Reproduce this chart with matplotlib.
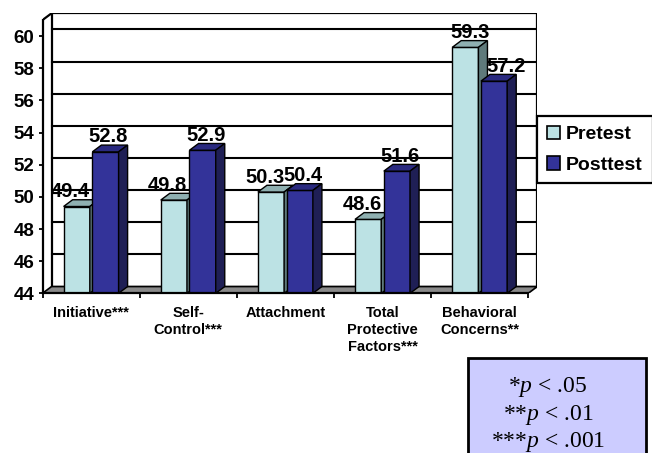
import numpy as np
import matplotlib
matplotlib.use("Agg")
import matplotlib.pyplot as plt
from matplotlib.patches import Polygon, Patch, Rectangle

# data
categories = ["Initiative***", "Self-\nControl***", "Attachment",
              "Total\nProtective\nFactors***", "Behavioral\nConcerns**"]
pretest = [49.4, 49.8, 50.3, 48.6, 59.3]
posttest = [52.8, 52.9, 50.4, 51.6, 57.2]
series_names = ["Pretest", "Posttest"]
y_ticks = [44, 46, 48, 50, 52, 54, 56, 58, 60]

plt.rcParams['font.family'] = ['Liberation Sans', 'DejaVu Sans']
plt.rcParams['mathtext.fontset'] = 'custom'
plt.rcParams['mathtext.rm'] = 'Liberation Serif'
plt.rcParams['mathtext.it'] = 'Liberation Serif:italic'

# colours: front, top, side
pre_cols = ('#BCE2E4', '#8FB0B1', '#5F7A7B')
post_cols = ('#333399', '#2A2A80', '#1F1F55')

y_min, y_max = 44, 61
dx, dy = 0.093, 0.42      # depth of the fake 3d
bar_w = 0.27
# horizontal placement of value labels (Excel shifts the last pair a bit)
pre_label_shift = [-0.21, -0.21, -0.21, -0.21, -0.10]
post_label_shift = [0.18, 0.18, 0.18, 0.18, 0.27]

fig = plt.figure(figsize=(6.52, 4.53), dpi=100)
ax = fig.add_axes([42.5 / 652, 1 - 293.3 / 453, (537.3 - 42.5) / 652, (293.3 - 13.3) / 453])
ax.set_xlim(-0.5, len(categories) - 0.5 + dx)
ax.set_ylim(y_min, y_max + dy)
ax.patch.set_visible(False)

x = np.arange(len(categories))
x_left, x_right = -0.5, len(categories) - 0.5

# ---------------------------------------------------------
# back wall, gridlines, floor
# ---------------------------------------------------------
ax.add_patch(Polygon([(x_left + dx, y_min + dy), (x_right + dx, y_min + dy),
                      (x_right + dx, y_max + dy), (x_left + dx, y_max + dy)],
                     closed=True, facecolor='white', edgecolor='black', lw=1.6, zorder=1))
for v in y_ticks[1:]:
    ax.plot([x_left + dx, x_right + dx], [v + dy, v + dy], color='black', lw=1.5, zorder=1)
ax.plot([x_left, x_left + dx], [y_max, y_max + dy], color='black', lw=1.6, zorder=1)
ax.add_patch(Polygon([(x_left, y_min), (x_right, y_min), (x_right + dx, y_min + dy),
                      (x_left + dx, y_min + dy)],
                     closed=True, facecolor='#8A8A8A', edgecolor='black', lw=1.2, zorder=2))

# ---------------------------------------------------------
# bars
# ---------------------------------------------------------
def draw_bars(x0, vals, cols, z):
    bars = ax.bar(x0, np.array(vals) - y_min, bottom=y_min, width=bar_w, align='edge',
                  color=cols[0], edgecolor='black', lw=1.0, zorder=z)
    for b, v in zip(bars, vals):
        l, r = b.get_x(), b.get_x() + b.get_width()
        ax.add_patch(Polygon([(l, v), (r, v), (r + dx, v + dy), (l + dx, v + dy)],
                             closed=True, facecolor=cols[1], edgecolor='black', lw=1.0, zorder=z))
        ax.add_patch(Polygon([(r, y_min), (r + dx, y_min + dy), (r + dx, v + dy), (r, v)],
                             closed=True, facecolor=cols[2], edgecolor='black', lw=1.0, zorder=z))

draw_bars(x - 0.283, pretest, pre_cols, 4)
draw_bars(x + 0.013, posttest, post_cols, 5)

# value labels (behind the bars, like the original)
for xi, v in zip(x + np.array(pre_label_shift), pretest):
    ax.annotate(f"{v:.1f}", (xi, v + dy), xytext=(0, 2), textcoords='offset points',
                ha='center', va='baseline', fontsize=14.5, fontweight='bold', zorder=3)
for xi, v in zip(x + np.array(post_label_shift), posttest):
    ax.annotate(f"{v:.1f}", (xi, v + dy), xytext=(0, 2), textcoords='offset points',
                ha='center', va='baseline', fontsize=14.5, fontweight='bold', zorder=3)

# ---------------------------------------------------------
# axes
# ---------------------------------------------------------
for s in ['top', 'right']:
    ax.spines[s].set_visible(False)
ax.spines['left'].set_bounds(y_min, y_max)
ax.spines['bottom'].set_bounds(x_left, x_right)
ax.spines['left'].set_linewidth(1.6)
ax.spines['bottom'].set_linewidth(1.6)
ax.spines['left'].set_zorder(6)
ax.spines['bottom'].set_zorder(6)

ax.set_yticks(y_ticks)
ax.set_yticklabels([str(t) for t in y_ticks], fontsize=13.5, fontweight='bold')
ax.tick_params(axis='y', direction='out', length=3, width=1.3, pad=3)

ax.set_xticks(np.arange(x_left, x_right + 0.01, 1.0))
ax.set_xticklabels([])
ax.tick_params(axis='x', which='major', direction='out', length=3.5, width=1.3)
ax.set_xticks(x, minor=True)
ax.set_xticklabels(categories, minor=True, fontsize=10.5, fontweight='bold', linespacing=1.3)
ax.tick_params(axis='x', which='minor', length=0, pad=9)

# legend
handles = [Patch(facecolor=pre_cols[0], edgecolor='black', lw=1.2),
           Patch(facecolor=post_cols[0], edgecolor='black', lw=1.2)]
leg = fig.legend(handles, series_names, loc='upper left',
                 bbox_to_anchor=(537 / 652, 1 - 116 / 453), borderaxespad=0,
                 prop={'weight': 'bold', 'size': 14}, handlelength=0.7, handleheight=0.7,
                 handletextpad=0.3, borderpad=0.5, labelspacing=0.65,
                 fancybox=False, framealpha=1, edgecolor='black')
leg.get_frame().set_linewidth(1.6)

# significance note
fig.patches.append(Rectangle((468 / 652, -0.05), (646 - 468) / 652, (453 - 358) / 453 + 0.05,
                             transform=fig.transFigure, facecolor='#CCCCFF',
                             edgecolor='black', lw=2))
notes = ["*$p$ < .05", "**$p$ < .01", "***$p$ < .001"]
for note, yb in zip(notes, [392, 420, 447]):
    fig.text(548 / 652, 1 - yb / 453, note, ha='center', va='baseline',
             fontsize=17, family='Liberation Serif')

fig.savefig("out.png", dpi=100)
